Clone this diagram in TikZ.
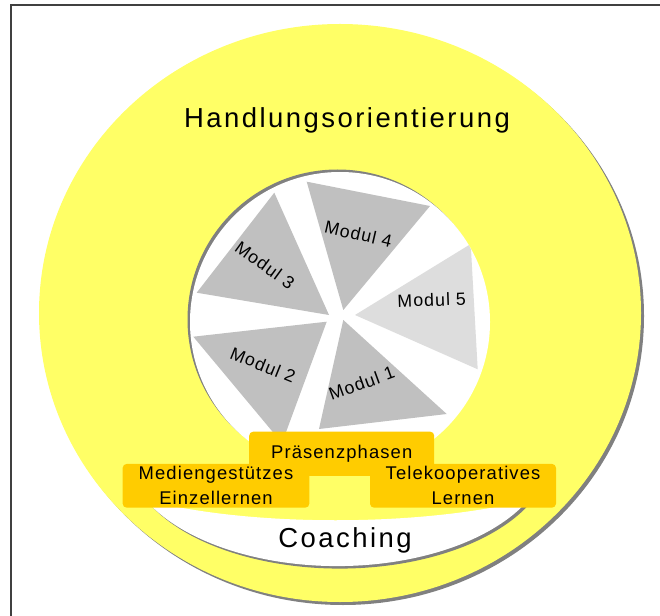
\documentclass[tikz,border=0pt]{standalone}
\usepackage{fontspec}
\setmainfont{Liberation Sans}
\newfontfamily\diafont[LetterSpace=6]{Liberation Sans}
\newfontfamily\diatitlefont[LetterSpace=9]{Liberation Sans}
\definecolor{ringyellow}{HTML}{FFFF66}
\definecolor{boxgold}{HTML}{FFCC00}
\definecolor{slicegray}{HTML}{C0C0C0}
\definecolor{slicelight}{HTML}{DDDDDD}
\definecolor{shadowgray}{HTML}{808080}
\tikzset{
    frame/.style = {draw=black!75,line width=1.1pt},
    shadow/.style = {fill=shadowgray,draw=none},
    slice/.style = {fill=slicegray,draw=none},
    slicel/.style = {fill=slicelight,draw=none},
    box/.style = {rectangle,rounded corners=3pt,fill=boxgold,inner sep=0pt,align=center,font=\diafont\fontsize{13.8}{18.75}\selectfont},
    title/.style = {inner sep=0pt,anchor=base,font=\diatitlefont\fontsize{20.6}{24}\selectfont},
    modul/.style = {inner sep=0pt,font=\diafont\fontsize{13.3}{16}\selectfont}
}

\begin{document}
\begin{tikzpicture}[
  x=0.75pt,
  y=-0.75pt]
  \useasboundingbox (0,0) rectangle (660,616);
  \draw[frame] (10,5) -- (660,5);
  \draw[frame] (11,5) -- (11,616);

  % outer ring
  \fill[shadow] (343,316) ellipse [x radius=301, y radius=289];
  \fill[ringyellow] (340,313) ellipse [x radius=301, y radius=289];

  % coaching band
  \fill[shadow,shift={(2.5,2.5)}] (145.7,500) arc[start angle=154.5, end angle=25.5, x radius=212, y radius=116]
    .. controls (420,527) and (250,527) .. (145.7,500) -- cycle;
  \fill[white] (145.7,500) arc[start angle=154.5, end angle=25.5, x radius=212, y radius=116]
    .. controls (420,527) and (250,527) .. (145.7,500) -- cycle;

  % modules
  \fill[shadow] (337.5,319.5) circle [radius=150];
  \fill[white] (340,322) circle [radius=150];
  \begin{scope}
    \clip (340,322) circle [radius=150];
    \fill[slice] (343.3,320) -- (446.7,414) -- (319,429) -- cycle;
    \fill[slice] (193.3,336.7) -- (326.7,321.7) -- (282,443) -- cycle;
    \fill[slice] (274.3,192.7) -- (196.7,292.7) -- (329,315) -- cycle;
    \fill[slice] (306.7,181.7) -- (430,206) -- (343.3,310) -- cycle;
    \fill[slicel] (355,315) -- (470.7,244) -- (477.7,369.3) -- cycle;
  \end{scope}
  \node[modul,rotate=20] (modul1) at (361.7,383.3) {Modul 1};
  \node[modul,rotate=-22] (modul2) at (263,365) {Modul 2};
  \node[modul,rotate=-36] (modul3) at (265,265) {Modul 3};
  \node[modul,rotate=-13] (modul4) at (358.3,234) {Modul 4};
  \node[modul,rotate=2] (modul5) at (431.7,300) {Modul 5};

  \node[box,minimum width=138.75pt,minimum height=33.2pt] (praesenz) at (341.7,453.8) {Präsenzphasen};
  \node[box,minimum width=140pt,minimum height=32.8pt] (medien) at (216,485.8) {Mediengestützes\\Einzellernen};
  \node[box,minimum width=139.5pt,minimum height=32.8pt] (tele) at (463,485.8) {Telekooperatives\\Lernen};

  \node[title] (handlung) at (347,127.3) {Handlungsorientierung};
  \node[title] (coaching) at (345,547.7) {Coaching};
\end{tikzpicture}
\end{document}
